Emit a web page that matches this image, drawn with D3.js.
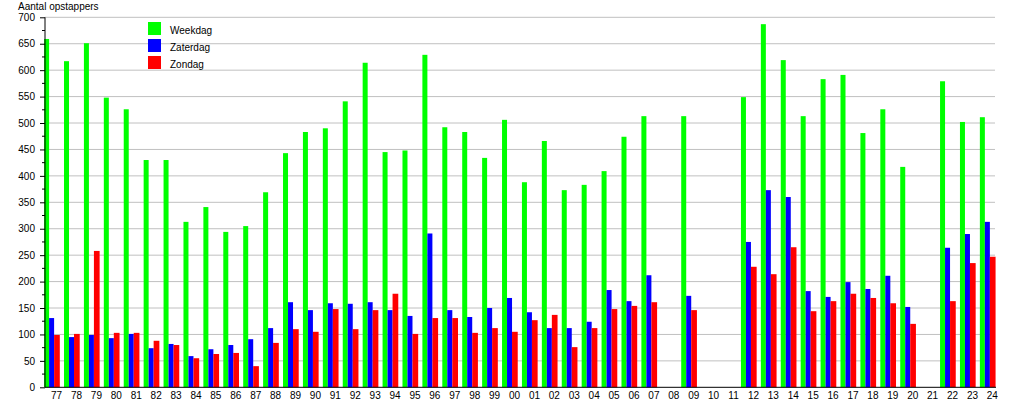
<!DOCTYPE html>
<html>
<head>
<meta charset="utf-8">
<script src="https://cdn.jsdelivr.net/npm/d3@7"></script>
<style>
  html, body { margin: 0; padding: 0; background: #fff; }
  svg { display: block; font-family: "Liberation Sans", Arial, sans-serif; }
</style>
</head>
<body>
<svg id="chart" width="1015" height="400"></svg>
<script>
const categories = ["77","78","79","80","81","82","83","84","85","86","87","88","89","90","91","92","93","94","95","96","97","98","99",
  "00","01","02","03","04","05","06","07","08","09","10","11","12","13","14","15","16","17","18","19","20","21","22","23","24"];
const weekdag = [659,617,651,548,526,430,430,313,341,294,305,369,443,483,490,541,614,445,448,629,492,483,434,
  506,388,466,373,383,409,474,513,null,513,null,null,549,687,619,513,583,591,481,526,417,null,579,502,511];
const zaterdag = [131,95,99,93,101,74,82,59,72,80,91,112,161,146,159,158,161,146,135,291,146,133,150,
  169,142,112,112,124,184,163,212,null,173,null,null,275,373,360,182,171,199,186,211,152,null,264,290,313];
const zondag = [99,101,258,103,103,88,80,55,63,65,40,84,110,105,148,110,146,177,101,131,131,103,112,
  105,127,137,76,112,148,154,161,null,146,null,null,228,214,265,144,163,177,169,159,120,null,163,235,247];
const seriesNames = ["Weekdag","Zaterdag","Zondag"];
const seriesColors = ["#00ff00","#0000ff","#ff0000"];
const yTicks = [0,50,100,150,200,250,300,350,400,450,500,550,600,650,700];
const yTitle = "Aantal opstappers";

const svg = d3.select("#chart");
const x = d3.scaleBand().domain(categories).range([44.1, 44.1 + 48 * 19.91]).paddingInner(0).paddingOuter(0);
const y = d3.scaleLinear().domain([0, 700]).range([387.3, 17.3]);

// gridlines
svg.append("g").selectAll("line").data(yTicks.filter(d => d > 0)).join("line")
  .attr("x1", 45).attr("x2", 995)
  .attr("y1", d => y(d)).attr("y2", d => y(d))
  .attr("stroke", "#c0c0c0").attr("stroke-width", 1);

// bars
const allSeries = [weekdag, zaterdag, zondag];
const offsets = [0, 5, 10];
const widths = [5, 5, 5.7];
allSeries.forEach((vals, si) => {
  svg.append("g").selectAll("rect")
    .data(categories.map((c, i) => ({c, v: vals[i]})).filter(d => d.v != null))
    .join("rect")
    .attr("x", d => x(d.c) + offsets[si])
    .attr("width", widths[si])
    .attr("y", d => y(d.v))
    .attr("height", d => y(0) - y(d.v))
    .attr("fill", seriesColors[si]);
});

// y axis
const yAxis = d3.axisLeft(y).tickValues(yTicks).tickSize(5).tickPadding(5);
const gy = svg.append("g").attr("transform", "translate(45,0)").call(yAxis);
gy.select(".domain").attr("d", `M0,${y(700)}V${y(0)}`).attr("stroke", "#000");
gy.selectAll(".tick line").attr("stroke", "#000");
gy.selectAll(".tick text").attr("font-size", 10).attr("fill", "#000")
  .attr("font-family", "'Liberation Sans', Arial, sans-serif");
// minor ticks
const minor = d3.range(25, 700, 50);
svg.append("g").selectAll("line").data(minor).join("line")
  .attr("x1", 42).attr("x2", 45)
  .attr("y1", d => y(d)).attr("y2", d => y(d))
  .attr("stroke", "#000");

// x axis
svg.append("line").attr("x1", 45).attr("x2", 996)
  .attr("y1", y(0)).attr("y2", y(0)).attr("stroke", "#000");
svg.append("g").selectAll("text").data(categories).join("text")
  .attr("x", d => x(d) + 12.5)
  .attr("y", 398.5)
  .attr("text-anchor", "middle")
  .attr("font-size", 10)
  .attr("fill", "#000")
  .text(d => d);

// title
svg.append("text").attr("x", 18).attr("y", 10).attr("font-size", 10).attr("fill", "#000").text(yTitle);

// legend
const lg = svg.append("g");
seriesNames.forEach((n, i) => {
  lg.append("rect").attr("x", 148).attr("y", 22 + i * 17).attr("width", 13).attr("height", 13).attr("fill", seriesColors[i]);
  lg.append("text").attr("x", 170).attr("y", 33.5 + i * 17).attr("font-size", 10).attr("fill", "#000").text(n);
});
</script>
</body>
</html>
